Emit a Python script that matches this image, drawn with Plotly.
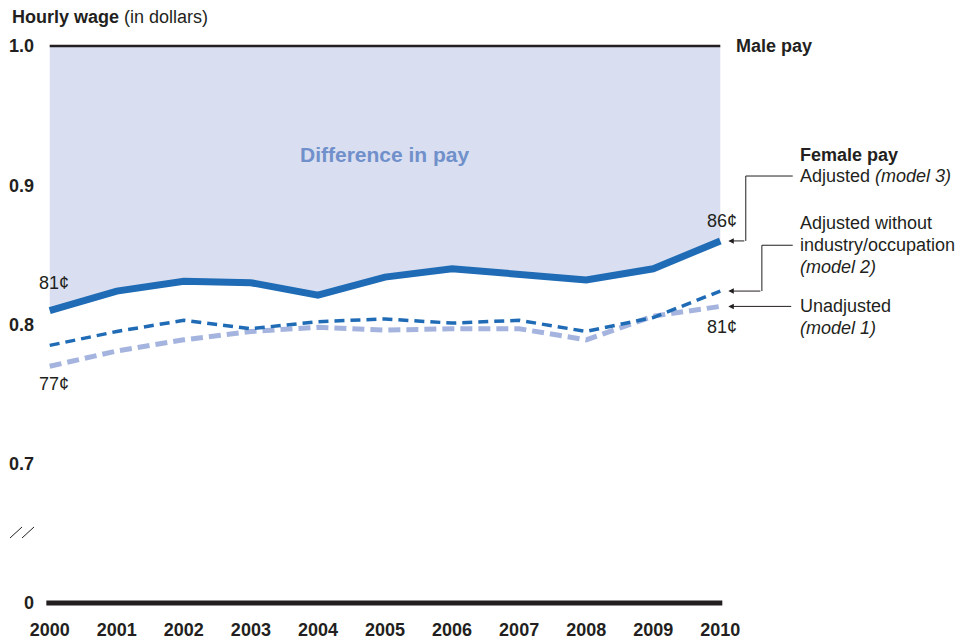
import plotly.graph_objects as go

# ---- data -------------------------------------------------------------
years = list(range(2000, 2011))
year_labels = [str(y) for y in years]

# Female hourly pay per dollar of male pay
model3_adjusted = [0.81, 0.824, 0.831, 0.830, 0.821, 0.834, 0.840, 0.836, 0.832, 0.840, 0.86]
model2_without_ind_occ = [0.785, 0.795, 0.803, 0.797, 0.802, 0.804, 0.801, 0.803, 0.795, 0.805, 0.824]
model1_unadjusted = [0.77, 0.781, 0.789, 0.795, 0.798, 0.796, 0.797, 0.797, 0.789, 0.806, 0.813]
male_pay = [1.0] * len(years)

# broken axis: the "0" baseline sits where 0.6 would be
ytick_vals = [0.6, 0.7, 0.8, 0.9, 1.0]
ytick_text = ["0", "0.7", "0.8", "0.9", "1.0"]
baseline_value = 0.6

# ---- styling ----------------------------------------------------------
FONT = "Liberation Sans, Arial, Helvetica, sans-serif"
INK = "#231f20"
BLUE = "#1f6bb5"
LIGHT_BLUE = "#a4b4de"
FILL = "#d9dff0"
GAP_TEXT = "#7090cb"

X_RANGE = [1999.9, 2010.1]
Y_RANGE = [0.59, 1.01]
W, H = 972, 641
M = dict(l=43, r=245, t=32, b=24)
PW = W - M["l"] - M["r"]
PH = H - M["t"] - M["b"]


def xp(year):
    """data x -> paper (valid outside the axis range too)"""
    return (year - X_RANGE[0]) / (X_RANGE[1] - X_RANGE[0])


def yp(v):
    return (v - Y_RANGE[0]) / (Y_RANGE[1] - Y_RANGE[0])


def px_x(px):
    """horizontal pixel -> paper"""
    return (px - M["l"]) / PW


def px_y(px):
    """vertical pixel (from top) -> paper"""
    return (H - M["b"] - px) / PH


fig = go.Figure()

# male pay reference line
fig.add_trace(go.Scatter(x=years, y=male_pay, mode="lines",
                         line=dict(color=INK, width=2.5), hoverinfo="skip"))
# gap between male pay and adjusted female pay
fig.add_trace(go.Scatter(x=years, y=model3_adjusted, mode="lines",
                         line=dict(width=0), fill="tonexty", fillcolor=FILL,
                         hoverinfo="skip"))
fig.add_trace(go.Scatter(x=years, y=model1_unadjusted, mode="lines",
                         line=dict(color=LIGHT_BLUE, width=5, dash="12px,6px"),
                         hoverinfo="skip"))
fig.add_trace(go.Scatter(x=years, y=model2_without_ind_occ, mode="lines",
                         line=dict(color=BLUE, width=3.5, dash="10px,6px"),
                         hoverinfo="skip"))
fig.add_trace(go.Scatter(x=years, y=model3_adjusted, mode="lines",
                         line=dict(color=BLUE, width=7), hoverinfo="skip"))

shapes = []
# baseline at "0"
shapes.append(dict(type="line", xref="x", yref="y", x0=1999.95, x1=2010.03,
                   y0=baseline_value, y1=baseline_value,
                   line=dict(color=INK, width=5)))
# axis break marks
for x0 in (10, 22):
    shapes.append(dict(type="line", xref="paper", yref="paper",
                       x0=px_x(x0), y0=px_y(538), x1=px_x(x0 + 12), y1=px_y(527),
                       line=dict(color=INK, width=1)))

# leader lines from the series labels
x_text = 2011.08
x_m3 = 2010.38
x_m2 = 2010.62
y_m3_lab = 0.9066
y_m2_lab = 0.8569
for pts in (
    [(x_text, y_m3_lab), (x_m3, y_m3_lab), (x_m3, model3_adjusted[-1])],
    [(x_text, y_m2_lab), (x_m2, y_m2_lab), (x_m2, model2_without_ind_occ[-1])],
):
    path = "M " + " L ".join(f"{xp(a):.5f},{yp(b):.5f}" for a, b in pts)
    shapes.append(dict(type="path", xref="paper", yref="paper", path=path,
                       line=dict(color=INK, width=1)))

ann = []
arrow_x = 2010.12
px_per_year = PW / (X_RANGE[1] - X_RANGE[0])
for val, start in ((model3_adjusted[-1], x_m3),
                   (model2_without_ind_occ[-1], x_m2),
                   (model1_unadjusted[-1], x_text)):
    ann.append(dict(x=xp(arrow_x), y=yp(val), xref="paper", yref="paper", text="",
                    showarrow=True, arrowhead=2, arrowsize=1.1, arrowwidth=1,
                    arrowcolor=INK, ax=(start - arrow_x) * px_per_year,
                    ay=0, standoff=0))

body = dict(family=FONT, size=18, color=INK)


def label(text, x, y, xanchor="left", xshift=0, yshift=0, font=None):
    ann.append(dict(x=xp(x), y=yp(y), xref="paper", yref="paper", text=text,
                    showarrow=False, xanchor=xanchor, yanchor="middle",
                    xshift=xshift, yshift=yshift, font=font or body))


label("<b>Male pay</b>", 2010.2, 1.0)
label("<b>Difference in pay</b>", 2005.0, 0.9217, xanchor="center",
      font=dict(family=FONT, size=21, color=GAP_TEXT))
label("<b>Female pay</b>", 2011.16, 0.9217)
label("Adjusted <i>(model 3)</i>", 2011.16, 0.9066)
label("Adjusted without", 2011.16, 0.8727)
label("industry/occupation", 2011.16, 0.8569)
label("<i>(model 2)</i>", 2011.16, 0.8411)
label("Unadjusted", 2011.16, 0.8133)
label("<i>(model 1)</i>", 2011.16, 0.7975)

# value call-outs
label(f"{round(model3_adjusted[0] * 100)}¢", years[0], model3_adjusted[0],
      xanchor="center", xshift=4, yshift=28)
label(f"{round(model1_unadjusted[0] * 100)}¢", years[0], model1_unadjusted[0],
      xanchor="center", xshift=4, yshift=-18)
label(f"{round(model3_adjusted[-1] * 100)}¢", years[-1], model3_adjusted[-1],
      xanchor="center", xshift=2, yshift=20)
label(f"{round(model1_unadjusted[-1] * 100)}¢", years[-1], model1_unadjusted[-1],
      xanchor="center", xshift=2, yshift=-21)

# axis title
ann.append(dict(x=px_x(10), y=px_y(17), xref="paper", yref="paper",
                text="<b>Hourly wage</b> (in dollars)", showarrow=False,
                xanchor="left", yanchor="middle", font=body))

fig.update_layout(
    width=W, height=H, margin=M,
    paper_bgcolor="white", plot_bgcolor="white",
    showlegend=False, hovermode=False,
    font=dict(family=FONT, color=INK),
    shapes=shapes, annotations=ann,
    xaxis=dict(range=X_RANGE, tickvals=years, ticktext=year_labels,
               showgrid=False, zeroline=False, showline=False, ticks="",
               tickfont=dict(family=FONT, size=18, color=INK, weight="bold"),
               automargin=False, fixedrange=True),
    yaxis=dict(range=Y_RANGE, tickvals=ytick_vals, ticktext=ytick_text,
               showgrid=False, zeroline=False, showline=False, ticks="",
               tickfont=dict(family=FONT, size=18, color=INK, weight="bold"),
               ticklabelstandoff=8, automargin=False, fixedrange=True),
)

fig.write_html("out.html", config={"displayModeBar": False})
